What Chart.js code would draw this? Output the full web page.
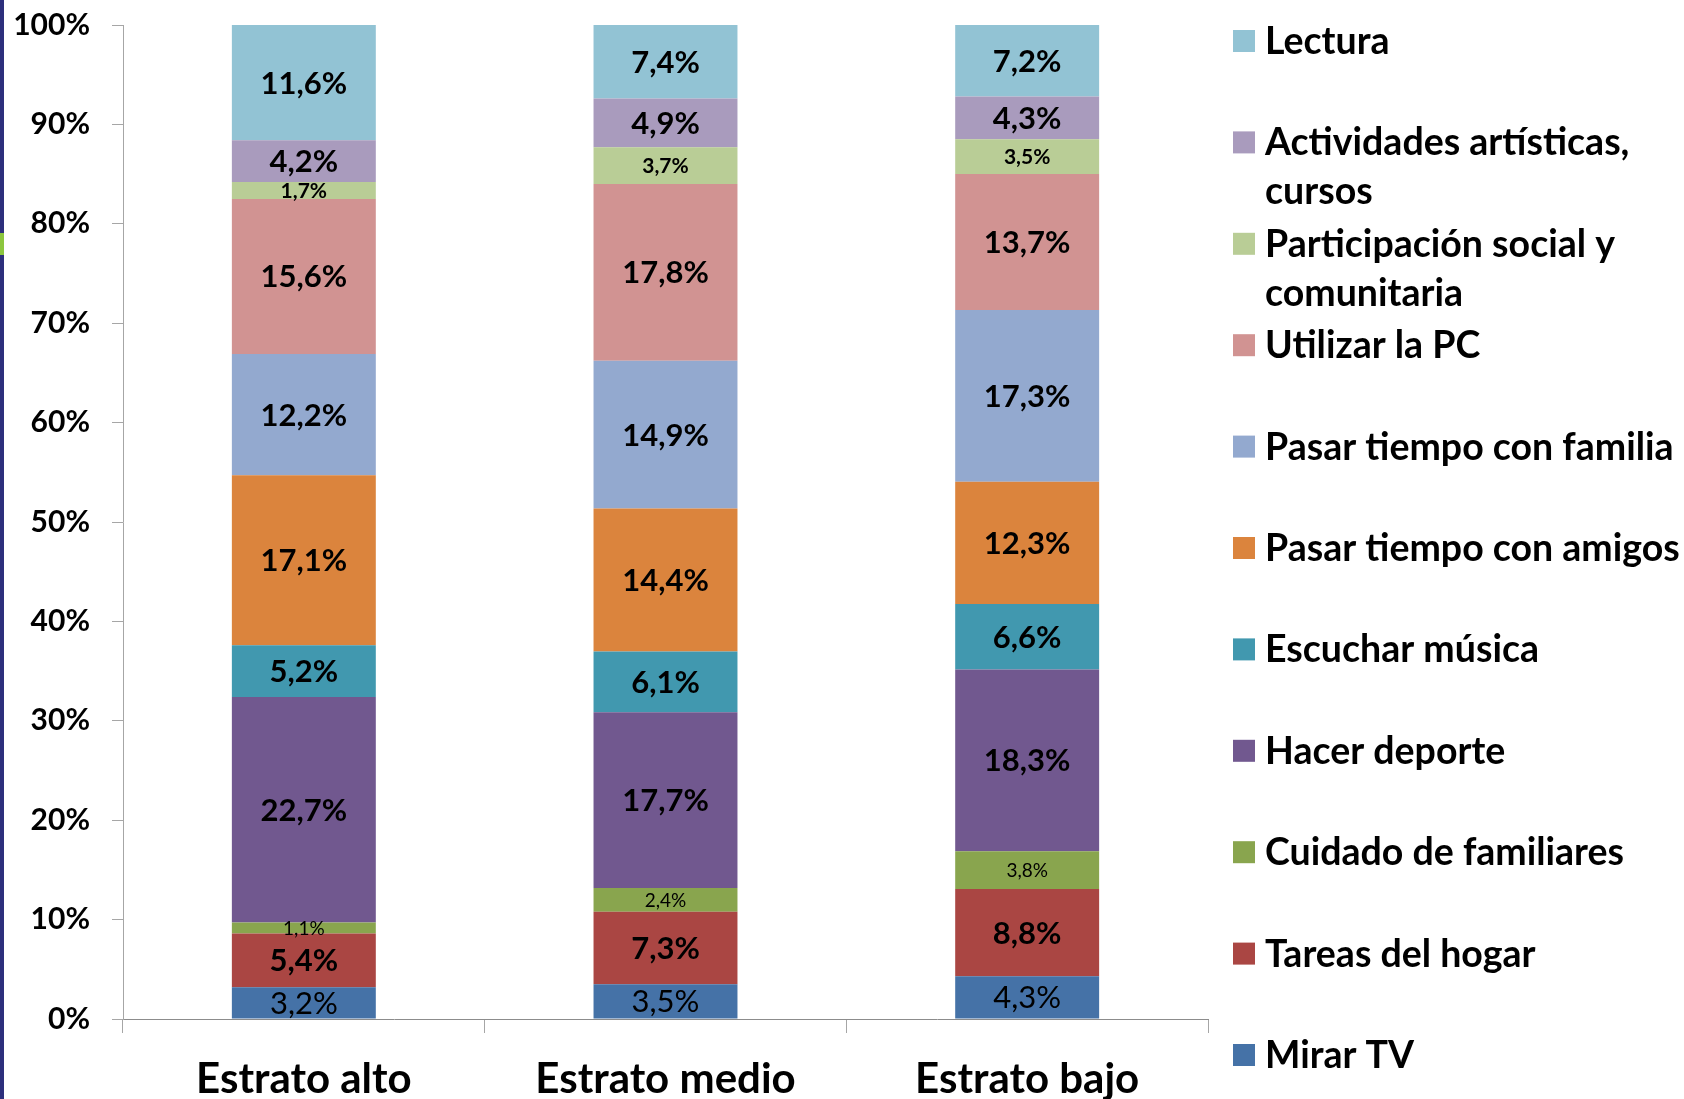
<!DOCTYPE html>
<html>
<head>
<meta charset="utf-8">
<script src="https://cdn.jsdelivr.net/npm/chart.js@4.4.0/dist/chart.umd.min.js"></script>
<style>
html, body { margin: 0; padding: 0; background: #fff; }
#wrap { position: relative; width: 1684px; height: 1099px; overflow: hidden; }
#edge { position: absolute; left: 0; top: 0; width: 4px; height: 1099px; background: #2d2f7c; }
#edge-mark { position: absolute; left: 0; top: 233px; width: 4px; height: 22px; background: #8cc63e; }
</style>
</head>
<body>
<div id="wrap">
  <canvas id="chart" width="1684" height="1099"></canvas>
  <div id="edge"></div>
  <div id="edge-mark"></div>
</div>
<script>
// categories and series (bottom of the stack first)
const categories = ['Estrato alto', 'Estrato medio', 'Estrato bajo'];
const seriesNames = [
    ['Mirar TV'],
    ['Tareas del hogar'],
    ['Cuidado de familiares'],
    ['Hacer deporte'],
    ['Escuchar música'],
    ['Pasar tiempo con amigos'],
    ['Pasar tiempo con familia'],
    ['Utilizar la PC'],
    ['Participación social y', 'comunitaria'],
    ['Actividades artísticas,', 'cursos'],
    ['Lectura']
];
const mirarTV       = [3.2, 3.5, 4.3];
const tareasHogar   = [5.4, 7.3, 8.8];
const cuidadoFam    = [1.1, 2.4, 3.8];
const hacerDeporte  = [22.7, 17.7, 18.3];
const escucharMus   = [5.2, 6.1, 6.6];
const tiempoAmigos  = [17.1, 14.4, 12.3];
const tiempoFamilia = [12.2, 14.9, 17.3];
const utilizarPC    = [15.6, 17.8, 13.7];
const participacion = [1.7, 3.7, 3.5];
const actividades   = [4.2, 4.9, 4.3];
const lectura       = [11.6, 7.4, 7.2];
const yTicks = [0, 10, 20, 30, 40, 50, 60, 70, 80, 90, 100];

const seriesValues = [mirarTV, tareasHogar, cuidadoFam, hacerDeporte, escucharMus,
    tiempoAmigos, tiempoFamilia, utilizarPC, participacion, actividades, lectura];

// styles
const colors = ['#4572a7', '#aa4643', '#89a54e', '#71588f', '#4198af',
    '#db843d', '#93a9cf', '#d19392', '#b9cd96', '#a99bbd', '#92c3d4'];
const labelSize   = [31, 31, 19, 31, 31, 31, 31, 31, 21, 31, 31];
const labelWeight = ['normal', 'bold', 'normal', 'bold', 'bold', 'bold', 'bold', 'bold', 'bold', 'bold', 'bold'];
const FONT = 'Lato, "Open Sans", sans-serif';

// 100% stacked: normalise every column
const totals = categories.map((c, j) => seriesValues.reduce((s, arr) => s + arr[j], 0));

const datasets = seriesValues.map((vals, i) => ({
    label: seriesNames[i].join(' '),
    raw: vals,
    data: vals.map((v, j) => v / totals[j] * 100),
    backgroundColor: colors[i],
    borderWidth: 0,
    categoryPercentage: 1,
    barPercentage: 0.398
}));

const valueLabels = {
    id: 'valueLabels',
    afterDatasetsDraw(chart) {
        const ctx = chart.ctx;
        chart.data.datasets.forEach((ds, i) => {
            chart.getDatasetMeta(i).data.forEach((bar, j) => {
                const { x, y, base } = bar.getProps(['x', 'y', 'base'], true);
                ctx.save();
                ctx.font = labelWeight[i] + ' ' + labelSize[i] + 'px ' + FONT;
                ctx.fillStyle = '#000';
                ctx.textAlign = 'center';
                ctx.textBaseline = 'middle';
                ctx.fillText(ds.raw[j].toFixed(1).replace('.', ',') + '%', x, (y + base) / 2 + 1);
                ctx.restore();
            });
        });
    }
};

// legend on the right, top item = last series
const sideLegend = {
    id: 'sideLegend',
    afterDraw(chart) {
        const ctx = chart.ctx;
        const n = seriesNames.length;
        ctx.save();
        ctx.font = 'bold 37.5px ' + FONT;
        ctx.textBaseline = 'middle';
        ctx.textAlign = 'left';
        for (let k = 0; k < n; k++) {
            const i = n - 1 - k;
            const yc = 42 + k * 101.4;
            ctx.fillStyle = colors[i];
            ctx.fillRect(1233, yc - 12, 22, 22);
            ctx.fillStyle = '#000';
            seriesNames[i].forEach((line, li) => ctx.fillText(line, 1265, yc + li * 49));
        }
        ctx.restore();
    }
};

new Chart(document.getElementById('chart').getContext('2d'), {
    type: 'bar',
    data: { labels: categories, datasets: datasets },
    options: {
        responsive: false,
        animation: false,
        devicePixelRatio: 1,
        layout: { padding: { top: 25, right: 476, bottom: 0, left: 0 } },
        plugins: { legend: { display: false }, tooltip: { enabled: false } },
        scales: {
            x: {
                stacked: true,
                grid: { drawOnChartArea: false, tickLength: 14, color: '#a6a6a6', offset: true },
                border: { color: '#8c8c8c' },
                ticks: { color: '#000', font: { family: FONT, size: 42, weight: 'bold' }, padding: 21 },
                afterFit: s => { s.height = 80; s.paddingTop = 0; }
            },
            y: {
                stacked: true,
                min: 0,
                max: 100,
                afterBuildTicks: s => { s.ticks = yTicks.map(v => ({ value: v })); },
                grid: { drawOnChartArea: false, tickLength: 11, color: '#a6a6a6' },
                border: { color: '#a6a6a6' },
                ticks: { color: '#000', font: { family: FONT, size: 30, weight: 'bold' }, padding: 22,
                    callback: v => v + '%' },
                afterFit: s => { s.width = 123; s.paddingTop = 0; s.paddingBottom = 0; }
            }
        }
    },
    plugins: [valueLabels, sideLegend]
});
</script>
</body>
</html>
